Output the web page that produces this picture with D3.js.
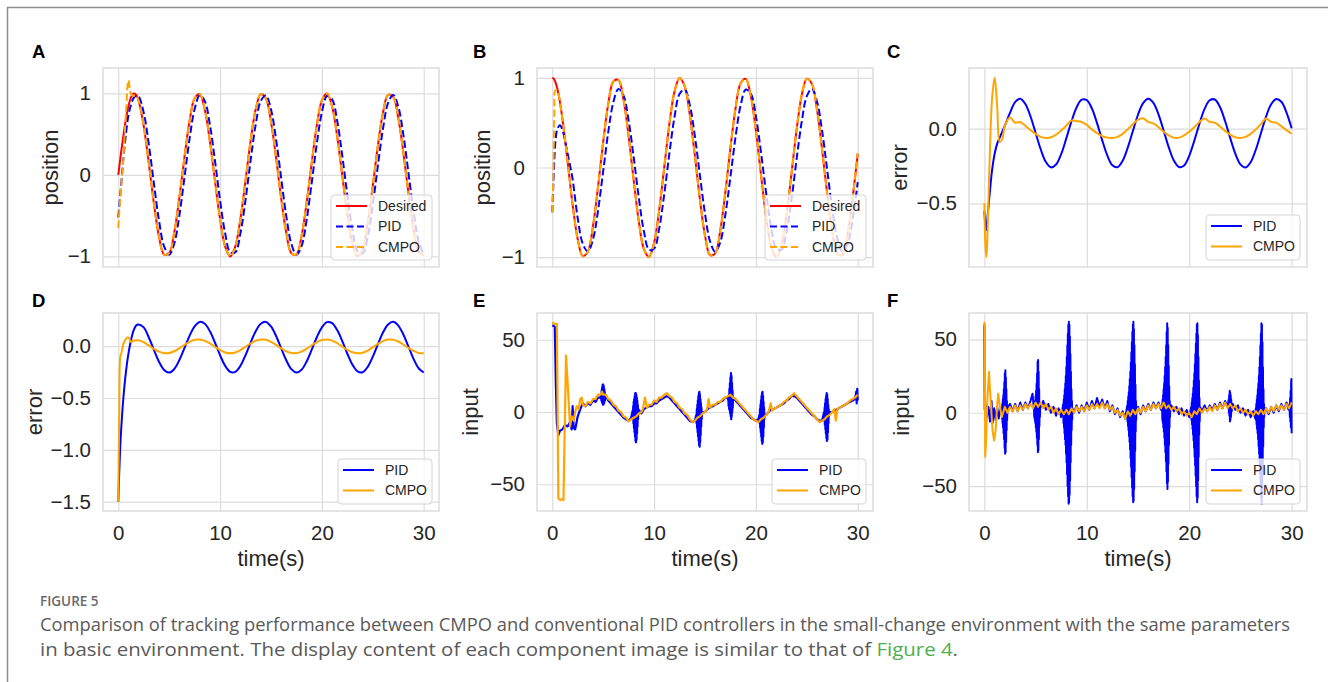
<!DOCTYPE html>
<html><head><meta charset="utf-8">
<script src="https://cdn.jsdelivr.net/npm/d3@7"></script>
<style>body{margin:0;background:#fff;}svg{display:block;}</style>
</head><body>
<svg id="fig" width="1328" height="682"></svg>
<script>
// ---------------- DATA ----------------
const time = [0,0.1,0.2,0.3,0.5,0.75,1,1.25,1.5,1.75,2,2.5,3,3.5,4,4.5,5,5.5,6,6.5,7,7.5,8,8.5,9,9.5,10,10.5,11,11.5,12,12.5,13,13.5,14,14.5,15,15.5,16,16.5,17,17.5,18,18.5,19,19.5,20,20.5,21,21.5,22,22.5,23,23.5,24,24.5,25,25.5,26,26.5,27,27.5,28,28.5,29,29.5,30];

const posA_desired = [0,0.100,0.199,0.296,0.479,0.682,0.841,0.949,0.997,0.984,0.909,
 0.598,0.141,-0.351,-0.757,-0.978,-0.959,-0.706,-0.279,0.215,0.657,0.938,0.989,0.798,0.412,-0.075,-0.544,-0.880,-1.000,-0.875,-0.537,-0.066,0.420,0.804,0.991,0.935,0.650,0.207,-0.288,-0.712,-0.961,-0.976,-0.751,-0.342,0.150,0.606,0.913,0.997,0.837,0.472,-0.009,-0.488,-0.846,-0.998,-0.906,-0.591,-0.132,0.359,0.763,0.980,0.956,0.699,0.271,-0.224,-0.664,-0.941,-0.988];
const posA_pid = [-0.52,-0.38,-0.24,-0.10,0.20,0.50,0.73,0.86,0.94,0.97,0.96,
 0.762,0.374,-0.106,-0.561,-0.877,-0.979,-0.842,-0.498,-0.032,0.441,0.807,0.975,0.904,0.613,0.171,-0.314,-0.720,-0.951,-0.949,-0.714,-0.305,0.179,0.619,0.907,0.974,0.802,0.433,-0.041,-0.506,-0.847,-0.980,-0.873,-0.553,-0.097,0.382,0.768,0.966,0.927,0.662,0.234,-0.251,-0.674,-0.933,-0.962,-0.757,-0.366,0.115,0.567,0.881,0.979,0.837,0.491,0.024,-0.449,-0.811,-0.976];
const posA_cmpo = [-0.65,-0.45,-0.30,-0.12,0.20,0.75,1.16,0.99,0.97,0.97,0.91,
 0.598,0.141,-0.351,-0.757,-0.978,-0.959,-0.706,-0.279,0.215,0.657,0.938,0.989,0.798,0.412,-0.075,-0.544,-0.880,-1.000,-0.875,-0.537,-0.066,0.420,0.804,0.991,0.935,0.650,0.207,-0.288,-0.712,-0.961,-0.976,-0.751,-0.342,0.150,0.606,0.913,0.997,0.837,0.472,-0.009,-0.488,-0.846,-0.998,-0.906,-0.591,-0.132,0.359,0.763,0.980,0.956,0.699,0.271,-0.224,-0.664,-0.941,-0.988];

const posB_desired = [1,0.995,0.980,0.955,0.878,0.732,0.540,0.315,0.071,-0.178,-0.416,
 -0.801,-0.990,-0.936,-0.654,-0.211,0.284,0.709,0.960,0.977,0.754,0.347,-0.146,-0.602,-0.911,-0.997,-0.839,-0.476,0.004,0.484,0.844,0.998,0.907,0.594,0.137,-0.355,-0.760,-0.978,-0.958,-0.703,-0.275,0.219,0.660,0.940,0.989,0.796,0.408,-0.079,-0.548,-0.882,-1.000,-0.873,-0.533,-0.062,0.424,0.806,0.991,0.933,0.647,0.202,-0.292,-0.716,-0.963,-0.975,-0.748,-0.338,0.154];
const posB_pid = [-0.50,-0.20,0.08,0.28,0.43,0.47,0.42,0.30,0.16,0.02,-0.13,
 -0.566,-0.853,-0.938,-0.802,-0.477,-0.041,0.397,0.730,0.877,0.802,0.523,0.109,-0.338,-0.712,-0.917,-0.905,-0.682,-0.295,0.155,0.560,0.820,0.872,0.703,0.355,-0.087,-0.515,-0.825,-0.940,-0.832,-0.527,-0.102,0.342,0.694,0.870,0.824,0.571,0.169,-0.281,-0.671,-0.902,-0.920,-0.722,-0.352,0.096,0.511,0.796,0.878,0.737,0.410,-0.026,-0.464,-0.793,-0.937,-0.859,-0.578,-0.162];
const posB_cmpo = [-0.50,-0.10,0.60,0.86,0.86,0.73,0.54,0.315,0.071,-0.178,-0.416,
 -0.801,-0.990,-0.936,-0.654,-0.211,0.284,0.709,0.960,0.977,0.754,0.347,-0.146,-0.602,-0.911,-0.997,-0.839,-0.476,0.004,0.484,0.844,0.998,0.907,0.594,0.137,-0.355,-0.760,-0.978,-0.958,-0.703,-0.275,0.219,0.660,0.940,0.989,0.796,0.408,-0.079,-0.548,-0.882,-1.000,-0.873,-0.533,-0.062,0.424,0.806,0.991,0.933,0.647,0.202,-0.292,-0.716,-0.963,-0.975,-0.748,-0.338,0.154];

const errC_pid = [-0.55,-0.64,-0.68,-0.60,-0.45,-0.28,-0.17,-0.10,-0.06,-0.02,0.02,
 0.105,0.178,0.200,0.165,0.083,-0.027,-0.138,-0.222,-0.259,-0.240,-0.170,-0.065,0.048,0.142,0.194,0.191,0.135,0.037,-0.077,-0.179,-0.245,-0.258,-0.215,-0.127,-0.016,0.093,0.171,0.200,0.173,0.096,-0.012,-0.124,-0.213,-0.257,-0.246,-0.182,-0.080,0.033,0.132,0.190,0.195,0.145,0.051,-0.062,-0.167,-0.239,-0.260,-0.224,-0.141,-0.031,0.080,0.163,0.199,0.180,0.108,0.003];
const errC_cmpo = [-0.50,-0.78,-0.86,-0.72,-0.25,0.20,0.34,0.15,-0.09,-0.07,0.02,
 0.075,0.04,0.045,0.02,-0.01,-0.035,-0.055,-0.062,-0.058,-0.04,-0.012,0.02,0.055,0.05,0.045,0.025,-0.005,-0.03,-0.05,-0.06,-0.062,-0.055,-0.035,-0.005,0.03,0.06,0.07,0.045,0.035,0.01,-0.02,-0.045,-0.06,-0.06,-0.045,-0.02,0.01,0.045,0.068,0.045,0.04,0.015,-0.015,-0.04,-0.058,-0.062,-0.055,-0.035,-0.005,0.03,0.068,0.045,0.04,0.015,-0.01,-0.034];

const errD_pid = [-1.50,-1.20,-0.95,-0.78,-0.50,-0.25,-0.07,0.06,0.15,0.20,0.21,
 0.181,0.084,-0.036,-0.150,-0.229,-0.255,-0.220,-0.134,-0.018,0.100,0.192,0.234,0.216,0.143,0.033,-0.088,-0.190,-0.248,-0.247,-0.189,-0.086,0.035,0.145,0.217,0.234,0.190,0.098,-0.020,-0.136,-0.222,-0.255,-0.228,-0.148,-0.034,0.086,0.182,0.232,0.222,0.155,0.049,-0.073,-0.179,-0.243,-0.251,-0.199,-0.101,0.019,0.132,0.210,0.235,0.199,0.113,-0.004,-0.122,-0.213,-0.254];
const errD_cmpo = [-1.50,-0.60,-0.10,-0.07,0.02,0.07,0.085,0.04,0.055,0.055,0.058,
 0.038,0.007,-0.026,-0.053,-0.068,-0.066,-0.049,-0.021,0.012,0.042,0.061,0.064,0.051,0.026,-0.007,-0.038,-0.061,-0.069,-0.061,-0.038,-0.006,0.026,0.052,0.064,0.061,0.042,0.012,-0.021,-0.050,-0.066,-0.067,-0.052,-0.025,0.008,0.039,0.059,0.065,0.054,0.030,-0.003,-0.035,-0.059,-0.069,-0.063,-0.042,-0.011,0.022,0.049,0.064,0.062,0.045,0.016,-0.017,-0.046,-0.065,-0.068];

// input signals: [time, value] pairs
const inE_pid = [[0,60],[0.25,59],[0.35,20],[0.45,-8],[0.6,-16],[0.75,-13],[1.0,-12],[1.25,-9],[1.5,-10],[1.75,-7],[1.9,-12],[2.0,4],[2.1,-11],[2.25,-12],[2.5,-3],[2.75,2],[3.0,6],[3.25,4],[3.5,6],[3.75,5],[4.0,8],[4.25,7],[4.5,10],[4.75,10],
 [4.8,12],[4.825,8],[4.85,15],[4.875,7],[4.9,17],[4.925,6],[4.95,19],[4.975,5],[5.0,19],[5.025,5],[5.05,18],[5.075,6],[5.1,16],[5.125,7],[5.15,14],[5.175,8],[5.2,12],
 [5.5,8],[5.75,6],[6.0,4],[6.25,2],[6.5,0],[6.75,-2],[7.0,-4],[7.25,-5],[7.5,-6],[7.75,-4],
 [7.9,1],[7.925,-5],[7.95,4],[7.975,-8],[8.0,7],[8.025,-11],[8.05,9],[8.075,-14],[8.1,11],[8.125,-17],[8.15,13],[8.175,-20],[8.2,13],[8.225,-21],[8.25,12],[8.275,-19],[8.3,10],[8.325,-15],[8.35,8],[8.375,-10],[8.4,5],[8.425,-5],[8.45,2],
 [8.75,-1],[9.0,2],[9.25,3],[9.5,4],[9.75,4],[10.0,6],[10.25,6],[10.5,8],[10.75,9],[11.0,10],[11.25,11],[11.5,10],[11.75,8],[12.0,6],[12.25,4],[12.5,2],[12.75,0],[13.0,-2],[13.25,-4],[13.5,-6],[13.75,-7],[14.0,-6],
 [14.15,-2],[14.175,-8],[14.2,2],[14.225,-11],[14.25,5],[14.275,-14],[14.3,8],[14.325,-17],[14.35,11],[14.375,-20],[14.4,13],[14.425,-23],[14.45,14],[14.475,-24],[14.5,12],[14.525,-21],[14.55,9],[14.575,-16],[14.6,6],[14.625,-10],[14.65,3],[14.675,-5],[14.7,0],
 [15.0,0],[15.25,2],[15.5,3],[15.75,4],[16.0,5],[16.25,6],[16.5,7],[16.75,8],[17.0,10],[17.2,10],
 [17.3,8],[17.325,4],[17.35,12],[17.375,2],[17.4,16],[17.425,1],[17.45,20],[17.475,-1],[17.5,24],[17.525,-3],[17.55,27],[17.575,-5],[17.6,25],[17.625,-3],[17.65,20],[17.675,0],[17.7,15],[17.725,3],[17.75,10],
 [18.0,8],[18.25,6],[18.5,4],[18.75,2],[19.0,0],[19.25,-2],[19.5,-4],[19.75,-5],[20.0,-6],[20.25,-5],
 [20.35,-2],[20.375,-8],[20.4,2],[20.425,-11],[20.45,5],[20.475,-14],[20.5,8],[20.525,-17],[20.55,11],[20.575,-20],[20.6,13],[20.625,-22],[20.65,14],[20.675,-21],[20.7,11],[20.725,-17],[20.75,7],[20.775,-11],[20.8,3],[20.825,-5],[20.85,-2],
 [21.0,-2],[21.25,0],[21.5,2],[21.75,2],[22.0,3],[22.25,4],[22.5,5],[22.75,6],[23.0,8],[23.25,9],[23.5,11],[23.75,11],[24.0,10],[24.25,8],[24.5,6],[24.75,4],[25.0,2],[25.25,0],[25.5,-2],[25.75,-3],[26.0,-5],[26.25,-6],[26.5,-6],
 [26.7,0],[26.725,-6],[26.75,3],[26.775,-9],[26.8,6],[26.825,-12],[26.85,9],[26.875,-15],[26.9,11],[26.925,-18],[26.95,13],[26.975,-20],[27.0,12],[27.025,-19],[27.05,9],[27.075,-14],[27.1,5],[27.125,-8],[27.15,2],[27.175,-3],[27.2,0],
 [27.5,0],[27.75,1],[28.0,2],[28.25,3],[28.5,4],[28.75,5],[29.0,6],[29.25,7],[29.5,8],[29.75,9],[29.85,14],[29.9,6],[29.95,16],[30.0,8]];
const inE_cmpo = [[0,62],[0.2,61],[0.45,61],[0.6,-60],[0.8,-61],[1.0,-60],[1.1,-61],[1.35,39],[1.55,15],[1.75,-10],[1.9,-3],[2.1,-6],[2.25,0],[2.4,4],[2.6,2],[2.75,9],[2.9,10],[3.0,5],[3.25,4],[3.5,7],[3.75,6],[4.0,9],[4.25,9],[4.5,12],[4.75,12],[4.9,14],[5.0,12],[5.25,12],[5.5,9],[5.75,8],[6.0,5],[6.25,4],[6.5,1],[6.75,0],[7.0,-3],[7.25,-4],[7.5,-6.5],[7.75,-5],[8.0,-4],[8.25,-3],[8.5,-1],[8.75,0],[8.9,2],[9.1,10],[9.3,3],[9.5,5],[9.75,5],[10.0,8],[10.25,7],[10.5,10],[10.75,10],[11.0,12],[11.25,13],[11.5,11],[11.75,10],[12.0,7],[12.25,6],[12.5,3],[12.75,2],[13.0,-1],[13.25,-2],[13.5,-5],[13.75,-7],[14.0,-6],[14.25,-4],[14.5,-3],[14.75,-1],[15.0,0],[15.2,2],[15.35,9],[15.5,3],[15.75,5],[16.0,5],[16.25,7],[16.5,7],[16.75,9],[17.0,10],[17.25,11],[17.5,12],[17.75,10],[18.0,9],[18.25,7],[18.5,5],[18.75,3],[19.0,1],[19.25,-1],[19.5,-3],[19.75,-5],[20.0,-6],[20.25,-7],[20.5,-5],[20.75,-4],[21.0,-2],[21.25,0],[21.45,6],[21.6,1],[21.75,2],[22.0,3],[22.25,4],[22.5,5],[22.75,7],[23.0,8],[23.25,10],[23.5,11],[23.75,13],[24.0,11],[24.25,9],[24.5,7],[24.75,5],[25.0,3],[25.25,1],[25.5,-1],[25.75,-3],[26.0,-5],[26.25,-7],[26.5,-6],[26.75,-5],[27.0,-3],[27.25,-2],[27.5,0],[27.7,2],[27.85,-6],[28.0,2],[28.25,3],[28.5,4],[28.75,5],[29.0,6],[29.25,8],[29.5,9],[29.75,10],[30.0,12]];

const inF_pid = [[0,60],[0.03,2],[0.15,5],[0.25,-3],[0.4,4],[0.55,-6],[0.7,8],[0.8,-7],[0.95,3],[1.1,-5],[1.25,4],[1.4,-4],[1.55,2],
 [1.7,3],[1.725,-4],[1.75,6],[1.775,-7],[1.8,9],[1.825,-10],[1.85,12],[1.875,-14],[1.9,16],[1.925,-18],[1.95,21],[1.975,-24],[2.0,27],[2.025,-28],[2.05,29],[2.075,-27],[2.1,24],[2.125,-20],[2.15,16],[2.175,-12],[2.2,8],[2.225,-5],[2.25,3],
 [2.5,6],[2.75,1],[3.0,6],[3.25,1],[3.5,7],[3.75,2],[4.0,7],[4.25,3],[4.5,8],[4.7,13],
 [4.85,2],[4.875,-3],[4.9,5],[4.925,-5],[4.95,8],[4.975,-7],[5.0,11],[5.025,-10],[5.05,15],[5.075,-13],[5.1,20],[5.125,-17],[5.15,27],[5.175,-22],[5.2,35],[5.225,-27],[5.25,36],[5.275,-26],[5.3,28],[5.325,-18],[5.35,16],[5.375,-9],[5.4,7],[5.425,-3],[5.45,3],
 [5.75,8],[6.0,2],[6.25,6],[6.5,0],[6.75,4],[7.0,-2],[7.25,3],[7.5,-3],
 [7.7,6],[7.725,-7],[7.75,9],[7.775,-10],[7.8,12],[7.825,-14],[7.85,16],[7.875,-18],[7.9,20],[7.925,-22],[7.95,25],[7.975,-28],[8.0,31],[8.025,-34],[8.05,38],[8.075,-42],[8.1,46],[8.125,-50],[8.15,54],[8.175,-57],[8.2,60],[8.225,-62],[8.25,62],[8.275,-61],[8.3,60],[8.325,-56],[8.35,52],[8.375,-46],[8.4,40],[8.425,-34],[8.45,28],[8.475,-22],[8.5,16],[8.525,-12],[8.55,8],[8.575,-5],[8.6,3],
 [8.75,0],[9.0,5],[9.25,0],[9.5,5],[9.75,1],[10.0,7],[10.25,2],[10.5,8],[10.75,3],[11.0,10],[11.25,4],[11.5,9],[11.75,3],[12.0,8],[12.25,1],[12.5,5],[12.75,-1],[13.0,3],[13.25,-3],[13.5,1],[13.75,-4],
 [13.95,5],[13.975,-6],[14.0,8],[14.025,-9],[14.05,11],[14.075,-12],[14.1,14],[14.125,-16],[14.15,18],[14.175,-20],[14.2,23],[14.225,-25],[14.25,28],[14.275,-31],[14.3,34],[14.325,-37],[14.35,41],[14.375,-44],[14.4,48],[14.425,-51],[14.45,55],[14.475,-57],[14.5,60],[14.525,-61],[14.55,62],[14.575,-60],[14.6,57],[14.625,-52],[14.65,46],[14.675,-40],[14.7,33],[14.725,-26],[14.75,19],[14.775,-13],[14.8,8],[14.825,-5],[14.85,3],
 [15.0,4],[15.25,-1],[15.5,5],[15.75,1],[16.0,6],[16.25,2],[16.5,7],[16.75,3],[17.0,7],[17.25,2],
 [17.35,6],[17.375,-5],[17.4,9],[17.425,-7],[17.45,12],[17.475,-10],[17.5,16],[17.525,-13],[17.55,20],[17.575,-17],[17.6,25],[17.625,-22],[17.65,31],[17.675,-27],[17.7,38],[17.725,-33],[17.75,46],[17.775,-40],[17.8,55],[17.825,-48],[17.85,61],[17.875,-52],[17.9,58],[17.925,-47],[17.95,46],[17.975,-35],[18.0,32],[18.025,-22],[18.05,18],[18.075,-10],[18.1,8],[18.125,-3],[18.15,3],
 [18.25,5],[18.5,1],[18.75,4],[19.0,-1],[19.25,3],[19.5,-2],[19.75,2],[20.0,-3],
 [20.2,4],[20.225,-5],[20.25,7],[20.275,-8],[20.3,10],[20.325,-11],[20.35,13],[20.375,-15],[20.4,17],[20.425,-19],[20.45,22],[20.475,-24],[20.5,27],[20.525,-30],[20.55,33],[20.575,-36],[20.6,40],[20.625,-43],[20.65,47],[20.675,-50],[20.7,54],[20.725,-57],[20.75,60],[20.775,-61],[20.8,61],[20.825,-58],[20.85,53],[20.875,-46],[20.9,38],[20.925,-30],[20.95,22],[20.975,-15],[21.0,10],[21.025,-6],[21.05,4],
 [21.25,1],[21.5,5],[21.75,1],[22.0,5],[22.25,2],[22.5,6],[22.75,2],[23.0,7],[23.25,3],[23.5,8],[23.75,4],
 [23.85,9],[23.875,0],[23.9,12],[23.925,-2],[23.95,15],[23.975,-6],[24.0,14],[24.025,-5],[24.05,12],[24.075,-3],[24.1,9],[24.15,1],
 [24.25,6],[24.5,2],[24.75,5],[25.0,0],[25.25,3],[25.5,-2],[25.75,2],[26.0,-3],[26.25,1],[26.45,-4],
 [26.5,3],[26.525,-5],[26.55,6],[26.575,-8],[26.6,9],[26.625,-11],[26.65,12],[26.675,-14],[26.7,16],[26.725,-18],[26.75,20],[26.775,-23],[26.8,25],[26.825,-28],[26.85,31],[26.875,-35],[26.9,38],[26.925,-42],[26.95,46],[26.975,-50],[27.0,54],[27.025,-58],[27.05,61],[27.075,-62],[27.1,60],[27.125,-55],[27.15,48],[27.175,-40],[27.2,31],[27.225,-23],[27.25,16],[27.275,-10],[27.3,6],[27.325,-3],[27.35,3],
 [27.5,3],[27.75,-1],[28.0,4],[28.25,0],[28.5,5],[28.75,1],[29.0,6],[29.25,2],[29.5,7],[29.7,2],
 [29.8,6],[29.825,-3],[29.85,10],[29.875,-6],[29.9,15],[29.925,-10],[29.95,20],[29.975,23],[30.0,-14]];
const inF_cmpo = [[0,62],[0.04,55],[0.08,-30],[0.15,-22],[0.3,10],[0.45,28],[0.6,10],[0.8,-12],[0.95,-19],[1.1,-12],[1.25,5],[1.35,13],[1.5,5],[1.7,-3],
 [2.0,4],[2.25,0],[2.5,4],[2.75,1],[3.0,5],[3.25,1],[3.5,5],[3.75,2],[4.0,6],[4.25,3],[4.5,6],[4.75,3],[5.0,7],[5.25,4],[5.5,7],[5.75,3],[6.0,6],[6.25,2],[6.5,4],[6.75,0],[7.0,3],[7.25,-1],[7.5,2],[7.75,-1],[8.0,2],[8.25,-1],[8.5,3],[8.75,0],[9.0,4],[9.25,1],[9.5,4],[9.75,1],[10.0,5],[10.25,2],[10.5,6],[10.75,3],[11.0,6],[11.25,3],[11.5,7],[11.75,3],[12.0,6],[12.25,2],[12.5,4],[12.75,0],[13.0,2],[13.25,-2],[13.5,0],[13.75,-4],[14.0,1],[14.25,-2],[14.5,2],[14.75,-1],[15.0,3],[15.25,0],[15.5,4],[15.75,1],[16.0,5],[16.25,2],[16.5,6],[16.75,3],[17.0,6],[17.25,3],[17.5,7],[17.75,3],[18.0,5],[18.25,2],[18.5,4],[18.75,1],[19.0,3],[19.25,-1],[19.5,1],[19.75,-2],[20.0,0],[20.25,-3],[20.5,1],[20.75,-1],[21.0,3],[21.25,0],[21.5,3],[21.75,1],[22.0,4],[22.25,1],[22.5,5],[22.75,2],[23.0,6],[23.25,3],[23.5,7],[23.75,3],[24.0,6],[24.25,3],[24.5,5],[24.75,1],[25.0,3],[25.25,0],[25.5,2],[25.75,-1],[26.0,1],[26.25,-2],[26.5,1],[26.75,-1],[27.0,2],[27.25,-1],[27.5,3],[27.75,0],[28.0,4],[28.25,1],[28.5,5],[28.75,2],[29.0,5],[29.25,2],[29.5,6],[29.75,3],[30.0,7]];

const xTicks = [0,10,20,30];
const yTicksPos = [-1,0,1];
const yTicksErrC = [-0.5,0.0];
const yTicksErrD = [-1.5,-1.0,-0.5,0.0];
const yTicksInput = [-50,0,50];

// ---------------- DRAWING ----------------
const svg = d3.select("#fig");
const FONT = "'Liberation Sans', Arial, Helvetica, sans-serif";
const BLUE = "#0000ff", ORANGE = "#ffa500", RED = "#ff0000";
const GRID = "#dcdcdc", TXT = "#262626";
const DASH = "7.4,3.2";
const xDomain = [-1.5, 31.5];

svg.append("rect").attr("width",1328).attr("height",682).attr("fill","#fff");
svg.append("line").attr("x1",7).attr("x2",1328).attr("y1",7.5).attr("y2",7.5).attr("stroke","#8c8c8c").attr("stroke-width",1.5);
svg.append("line").attr("x1",7.5).attr("x2",7.5).attr("y1",7).attr("y2",682).attr("stroke","#8c8c8c").attr("stroke-width",1.5);

const defs = svg.append("defs");
const smooth = d3.curveCatmullRom.alpha(0.5);

function panel(p) {
  const [x0,y0,x1,y1] = p.box;
  const x = d3.scaleLinear().domain(xDomain).range([x0,x1]);
  const y = d3.scaleLinear().domain(p.yDomain).range([y1,y0]);
  const g = svg.append("g");

  g.append("g").attr("transform",`translate(${x0},0)`)
    .call(d3.axisLeft(y).tickValues(p.yTicks).tickSize(-(x1-x0)).tickFormat(""))
    .call(s=>{s.select(".domain").remove(); s.selectAll("line").attr("stroke",GRID).attr("stroke-width",1.2);});
  g.append("g").attr("transform",`translate(0,${y1})`)
    .call(d3.axisBottom(x).tickValues(xTicks).tickSize(-(y1-y0)).tickFormat(""))
    .call(s=>{s.select(".domain").remove(); s.selectAll("line").attr("stroke",GRID).attr("stroke-width",1.2);});

  const cid = "clip" + p.letter;
  defs.append("clipPath").attr("id",cid).append("rect")
    .attr("x",x0).attr("y",y0).attr("width",x1-x0).attr("height",y1-y0);
  const lg = g.append("g").attr("clip-path",`url(#${cid})`);
  p.series.forEach(s=>{
    const line = d3.line().x(d=>x(d[0])).y(d=>y(d[1])).curve(s.curve || d3.curveLinear);
    lg.append("path").datum(s.data).attr("d",line)
      .attr("fill","none").attr("stroke",s.color).attr("stroke-width",s.width || 2)
      .attr("stroke-dasharray",s.dash || null).attr("stroke-linejoin","round");
  });

  g.append("rect").attr("x",x0).attr("y",y0).attr("width",x1-x0).attr("height",y1-y0)
    .attr("fill","none").attr("stroke",GRID).attr("stroke-width",1.5);

  g.append("g").attr("transform",`translate(${x0},0)`)
    .call(d3.axisLeft(y).tickValues(p.yTicks).tickSize(0).tickPadding(12).tickFormat(d3.format(p.yFmt)))
    .call(s=>{s.select(".domain").remove(); s.selectAll("text").attr("fill",TXT).attr("font-family",FONT).attr("font-size",20.5);});

  if (p.showX) {
    g.append("g").attr("transform",`translate(0,${y1})`)
      .call(d3.axisBottom(x).tickValues(xTicks).tickSize(0).tickPadding(14).tickFormat(d3.format("d")))
      .call(s=>{s.select(".domain").remove(); s.selectAll("text").attr("fill",TXT).attr("font-family",FONT).attr("font-size",20.5);});
    g.append("text").attr("x",(x0+x1)/2).attr("y",566).attr("text-anchor","middle")
      .attr("font-family",FONT).attr("font-size",22).attr("fill",TXT).text("time(s)");
  }

  g.append("text").attr("transform",`translate(${p.ylabelX},${(y0+y1)/2}) rotate(-90)`)
    .attr("text-anchor","middle").attr("font-family",FONT).attr("font-size",22).attr("fill",TXT).text(p.ylabel);

  g.append("text").attr("x",p.letterPos[0]).attr("y",p.letterPos[1])
    .attr("font-family",FONT).attr("font-weight","bold").attr("font-size",18.5).attr("fill","#000").text(p.letter);

  const n = p.legend.length;
  const lw = n === 3 ? 101 : 94, lh = n === 3 ? 65 : 45;
  const lx = x1 - 7 - lw, ly = y1 - 7 - lh;
  const leg = g.append("g");
  leg.append("rect").attr("x",lx).attr("y",ly).attr("width",lw).attr("height",lh).attr("rx",3.5)
    .attr("fill","#fff").attr("fill-opacity",0.8).attr("stroke","#d4d4d4").attr("stroke-width",1);
  p.legend.forEach((e,i)=>{
    const cy = ly + 11 + i*20.5;
    leg.append("line").attr("x1",lx+5).attr("x2",lx+36).attr("y1",cy).attr("y2",cy)
      .attr("stroke",e.color).attr("stroke-width",2).attr("stroke-dasharray",e.dash || null);
    leg.append("text").attr("x",lx+47).attr("y",cy).attr("dy","0.35em")
      .attr("font-family",FONT).attr("font-size",14).attr("fill",TXT).text(e.label);
  });
}

const zipT = v => d3.zip(time, v);

panel({letter:"A", letterPos:[32,58], box:[103,68,439,267], yDomain:[-1.13,1.31], yTicks:yTicksPos, yFmt:"d",
  ylabel:"position", ylabelX:58, showX:false,
  series:[{data:zipT(posA_desired),color:RED,curve:smooth},
          {data:zipT(posA_pid),color:BLUE,dash:DASH,curve:smooth},
          {data:zipT(posA_cmpo),color:ORANGE,dash:DASH,curve:smooth}],
  legend:[{label:"Desired",color:RED},{label:"PID",color:BLUE,dash:"7,3.5"},{label:"CMPO",color:ORANGE,dash:"7,3.5"}]});

panel({letter:"B", letterPos:[473,58], box:[537,68,873,267], yDomain:[-1.11,1.11], yTicks:yTicksPos, yFmt:"d",
  ylabel:"position", ylabelX:490, showX:false,
  series:[{data:zipT(posB_desired),color:RED,curve:smooth},
          {data:zipT(posB_pid),color:BLUE,dash:DASH,curve:smooth},
          {data:zipT(posB_cmpo),color:ORANGE,dash:DASH,curve:smooth}],
  legend:[{label:"Desired",color:RED},{label:"PID",color:BLUE,dash:"7,3.5"},{label:"CMPO",color:ORANGE,dash:"7,3.5"}]});

panel({letter:"C", letterPos:[887,58], box:[969,68,1307,267], yDomain:[-0.926,0.406], yTicks:yTicksErrC, yFmt:".1f",
  ylabel:"error", ylabelX:907, showX:false,
  series:[{data:zipT(errC_pid),color:BLUE,curve:smooth},
          {data:zipT(errC_cmpo),color:ORANGE,curve:smooth}],
  legend:[{label:"PID",color:BLUE},{label:"CMPO",color:ORANGE}]});

panel({letter:"D", letterPos:[32,307], box:[103,313,439,511], yDomain:[-1.59,0.32], yTicks:yTicksErrD, yFmt:".1f",
  ylabel:"error", ylabelX:42, showX:true,
  series:[{data:zipT(errD_pid),color:BLUE,curve:smooth},
          {data:zipT(errD_cmpo),color:ORANGE,curve:smooth}],
  legend:[{label:"PID",color:BLUE},{label:"CMPO",color:ORANGE}]});

panel({letter:"E", letterPos:[473,307], box:[537,313,873,511], yDomain:[-68.5,68.5], yTicks:yTicksInput, yFmt:"d",
  ylabel:"input", ylabelX:478, showX:true,
  series:[{data:inE_pid,color:BLUE,width:2.2},
          {data:inE_cmpo,color:ORANGE,width:2.2}],
  legend:[{label:"PID",color:BLUE},{label:"CMPO",color:ORANGE}]});

panel({letter:"F", letterPos:[887,307], box:[969,313,1307,511], yDomain:[-67,68], yTicks:yTicksInput, yFmt:"d",
  ylabel:"input", ylabelX:909, showX:true,
  series:[{data:inF_pid,color:BLUE,width:2},
          {data:inF_cmpo,color:ORANGE,width:2}],
  legend:[{label:"PID",color:BLUE},{label:"CMPO",color:ORANGE}]});

// caption
const CAP = "'Open Sans', 'Noto Sans', sans-serif";
svg.append("text").attr("x",40).attr("y",606).attr("font-family",CAP).attr("font-size",13.5)
  .attr("font-weight",600).attr("fill","#6a6a6a").text("FIGURE 5");
svg.append("text").attr("x",40).attr("y",631).attr("font-family",CAP).attr("font-size",18)
  .attr("fill","#5a5a5a").attr("textLength",1250).attr("lengthAdjust","spacingAndGlyphs")
  .text("Comparison of tracking performance between CMPO and conventional PID controllers in the small-change environment with the same parameters");
const cap2 = svg.append("text").attr("x",40).attr("y",656).attr("font-family",CAP).attr("font-size",18)
  .attr("fill","#5a5a5a").attr("textLength",918).attr("lengthAdjust","spacingAndGlyphs");
cap2.append("tspan").text("in basic environment. The display content of each component image is similar to that of ");
cap2.append("tspan").attr("fill","#4fae4f").text("Figure 4");
cap2.append("tspan").text(".");
</script>
</body></html>
